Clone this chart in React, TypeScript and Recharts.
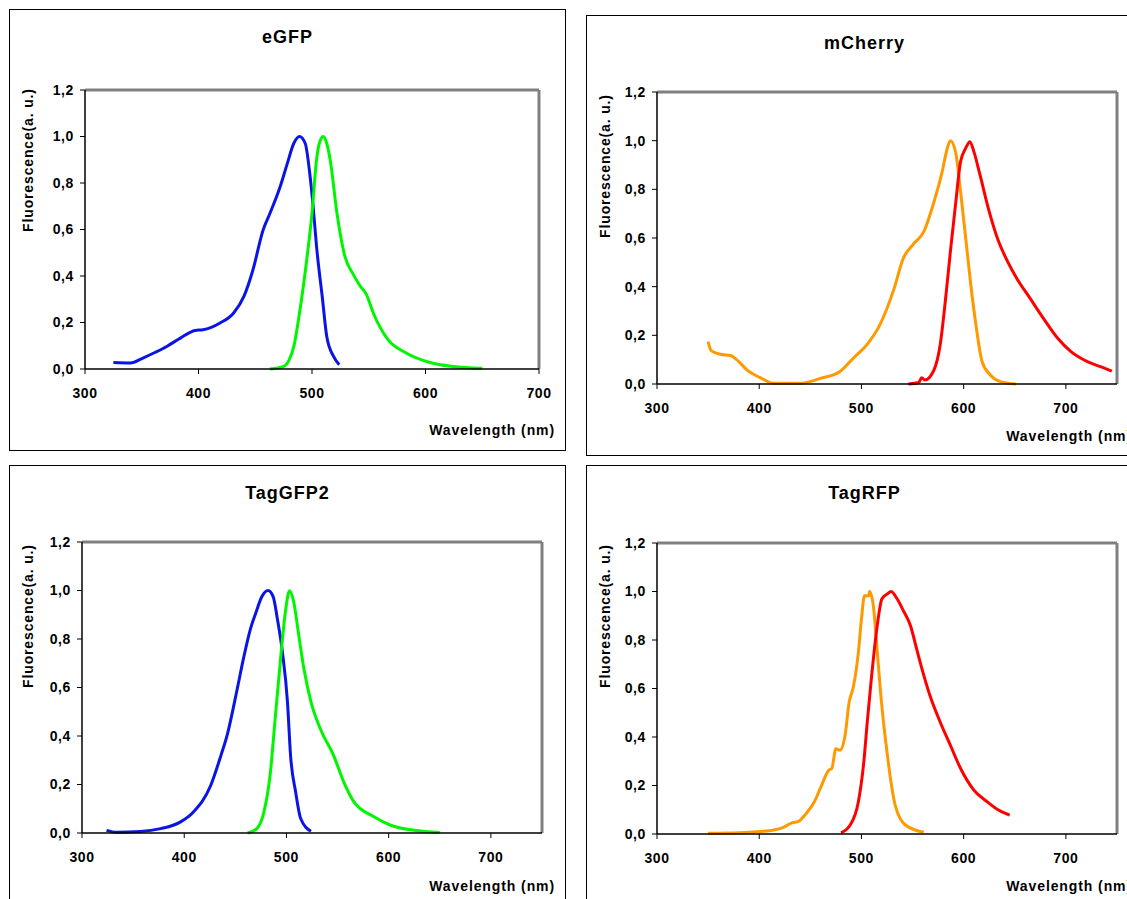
import React from 'react';
import { LineChart, Line, XAxis, YAxis, ReferenceLine } from 'recharts';

// wavelength (nm) / normalised fluorescence
const egfpExX = [325, 340, 351, 362, 372, 384, 397, 404, 419, 431, 440, 448, 457, 463, 472, 478, 484, 489, 494, 498, 501, 504, 509, 513, 519, 524];
const egfpExY = [0.028, 0.026, 0.047, 0.072, 0.097, 0.133, 0.166, 0.169, 0.198, 0.241, 0.312, 0.427, 0.599, 0.67, 0.785, 0.88, 0.971, 1.0, 0.971, 0.842, 0.699, 0.527, 0.312, 0.14, 0.054, 0.018];
const egfpEmX = [463, 475, 480, 484, 489, 495, 500, 504, 507, 510, 513, 516, 522, 529, 536, 542, 548, 554, 567, 583, 604, 624, 650];
const egfpEmY = [0.0, 0.011, 0.04, 0.097, 0.241, 0.456, 0.67, 0.9, 0.98, 1.0, 0.97, 0.9, 0.67, 0.484, 0.41, 0.36, 0.32, 0.241, 0.126, 0.069, 0.028, 0.011, 0.003];

const mcherryExX = [350, 353, 362, 372, 380, 388, 401, 414, 440, 460, 479, 492, 505, 518, 532, 541, 550, 561, 571, 579, 584, 587, 592, 597, 602, 607, 612, 618, 626, 636, 651];
const mcherryExY = [0.174, 0.137, 0.122, 0.117, 0.092, 0.058, 0.026, 0.003, 0.003, 0.023, 0.051, 0.106, 0.16, 0.243, 0.393, 0.517, 0.571, 0.626, 0.749, 0.873, 0.969, 1.0, 0.955, 0.79, 0.599, 0.407, 0.243, 0.092, 0.037, 0.01, 0.0];
const mcherryEmX = [546, 556, 559, 562, 571, 577, 582, 587, 592, 597, 602, 606, 610, 616, 625, 633, 643, 652, 665, 678, 692, 705, 721, 734, 745];
const mcherryEmY = [0.0, 0.006, 0.026, 0.016, 0.058, 0.16, 0.338, 0.544, 0.736, 0.914, 0.969, 0.996, 0.955, 0.859, 0.708, 0.599, 0.503, 0.434, 0.352, 0.27, 0.188, 0.133, 0.092, 0.071, 0.053];

const tagGfpExX = [324, 334, 357, 377, 396, 409, 426, 436, 442, 452, 458, 465, 470, 476, 482, 487, 491, 496, 501, 504, 509, 514, 524];
const tagGfpExY = [0.011, 0.003, 0.006, 0.018, 0.045, 0.087, 0.197, 0.321, 0.404, 0.597, 0.72, 0.845, 0.907, 0.975, 1.0, 0.975, 0.886, 0.748, 0.541, 0.321, 0.169, 0.059, 0.007];
const tagGfpEmX = [462, 471, 478, 484, 489, 494, 499, 503, 507, 512, 517, 524, 533, 546, 556, 566, 586, 602, 625, 650];
const tagGfpEmY = [0.0, 0.018, 0.087, 0.238, 0.473, 0.707, 0.913, 0.999, 0.955, 0.817, 0.679, 0.541, 0.431, 0.321, 0.211, 0.128, 0.066, 0.032, 0.011, 0.002];

const tagRfpExX = [350, 381, 401, 414, 423, 432, 438, 446, 454, 461, 468, 471, 475, 479, 484, 488, 492, 497, 500, 503, 507, 508, 512, 515, 519, 525, 533, 543, 561];
const tagRfpExY = [0.003, 0.005, 0.01, 0.016, 0.026, 0.046, 0.051, 0.085, 0.133, 0.201, 0.263, 0.27, 0.352, 0.345, 0.407, 0.544, 0.605, 0.749, 0.886, 0.982, 0.982, 1.0, 0.928, 0.777, 0.571, 0.338, 0.119, 0.037, 0.007];
const tagRfpEmX = [480, 489, 497, 502, 506, 510, 515, 520, 525, 529, 535, 541, 548, 554, 561, 567, 577, 587, 597, 610, 623, 634, 645];
const tagRfpEmY = [0.005, 0.037, 0.133, 0.284, 0.476, 0.654, 0.845, 0.969, 0.989, 1.0, 0.969, 0.921, 0.859, 0.763, 0.654, 0.571, 0.462, 0.366, 0.27, 0.181, 0.133, 0.099, 0.078];

const xTicks = [300, 400, 500, 600, 700];
const yTicks = [0, 0.2, 0.4, 0.6, 0.8, 1.0, 1.2];

const toPoints = (xs: number[], ys: number[]) => xs.map((x, i) => ({ x, y: ys[i] }));

const FONT = '"Liberation Sans", Arial, sans-serif';

type PanelProps = {
  title: string;
  left: number;
  top: number;
  height: number;
  xMax: number;
  margin: { top: number; right: number; bottom: number; left: number };
  series: { points: { x: number; y: number }[]; color: string }[];
};

const Panel: React.FC<PanelProps> = ({ title, left, top, height, xMax, margin, series }) => {
  const tickStyle = { fontSize: 14, fontWeight: 700, fill: '#000', fontFamily: FONT, letterSpacing: 0.6 };
  return (
    <div style={{ position: 'absolute', left, top, width: 555, height, outline: '1.5px solid #000', background: '#fff' }}>
      <div style={{ position: 'absolute', left: 0, width: 555, top: 17, textAlign: 'center', fontFamily: FONT, fontWeight: 700, fontSize: 18, letterSpacing: 1 }}>
        {title}
      </div>
      <div style={{ position: 'absolute', left: 18, top: 150, width: 0, height: 0 }}>
        <div style={{ position: 'absolute', transform: 'translate(-50%, -50%) rotate(-90deg)', whiteSpace: 'nowrap', fontFamily: FONT, fontWeight: 700, fontSize: 14, letterSpacing: 0.85 }}>
          Fluorescence(a. u.)
        </div>
      </div>
      <div style={{ position: 'absolute', right: 10, top: 412, whiteSpace: 'nowrap', fontFamily: FONT, fontWeight: 700, fontSize: 14, letterSpacing: 0.9 }}>
        Wavelength (nm)
      </div>
      <div style={{ position: 'absolute', left: 0, top: 0 }}>
        <LineChart width={555} height={440} margin={margin}>
          <XAxis
            type="number"
            dataKey="x"
            domain={[300, xMax]}
            ticks={xTicks}
            height={30}
            tickSize={5}
            tickMargin={14}
            tick={tickStyle}
            axisLine={{ stroke: '#000', strokeWidth: 1.5 }}
            tickLine={{ stroke: '#000' }}
            allowDataOverflow
          />
          <YAxis
            type="number"
            domain={[0, 1.2]}
            ticks={yTicks}
            width={40}
            tickSize={5}
            tickMargin={6}
            tick={tickStyle}
            tickFormatter={(v: number) => v.toFixed(1).replace('.', ',')}
            axisLine={{ stroke: '#000', strokeWidth: 1.5 }}
            tickLine={{ stroke: '#000' }}
          />
          <ReferenceLine y={1.2} stroke="#808080" strokeWidth={3} />
          <ReferenceLine x={xMax} stroke="#808080" strokeWidth={3} />
          {series.map((s, i) => (
            <Line
              key={i}
              data={s.points}
              dataKey="y"
              type="monotone"
              stroke={s.color}
              strokeWidth={3}
              dot={false}
              activeDot={false}
              isAnimationActive={false}
            />
          ))}
        </LineChart>
      </div>
    </div>
  );
};

export default function App() {
  return (
    <div style={{ position: 'absolute', left: 0, top: 0, width: 1127, height: 899, overflow: 'hidden', background: '#fff' }}>
      <Panel
        title="eGFP"
        left={10}
        top={10}
        height={440}
        xMax={700}
        margin={{ top: 80, right: 26, bottom: 51, left: 35 }}
        series={[
          { points: toPoints(egfpExX, egfpExY), color: '#0a14e6' },
          { points: toPoints(egfpEmX, egfpEmY), color: '#00f500' },
        ]}
      />
      <Panel
        title="mCherry"
        left={587}
        top={16}
        height={439}
        xMax={750}
        margin={{ top: 76, right: 25, bottom: 42, left: 30 }}
        series={[
          { points: toPoints(mcherryExX, mcherryExY), color: '#ff9900' },
          { points: toPoints(mcherryEmX, mcherryEmY), color: '#ff0000' },
        ]}
      />
      <Panel
        title="TagGFP2"
        left={10}
        top={466}
        height={440}
        xMax={750}
        margin={{ top: 76, right: 23, bottom: 43, left: 32 }}
        series={[
          { points: toPoints(tagGfpExX, tagGfpExY), color: '#0a14e6' },
          { points: toPoints(tagGfpEmX, tagGfpEmY), color: '#00f500' },
        ]}
      />
      <Panel
        title="TagRFP"
        left={587}
        top={466}
        height={440}
        xMax={750}
        margin={{ top: 77, right: 25, bottom: 42, left: 30 }}
        series={[
          { points: toPoints(tagRfpExX, tagRfpExY), color: '#ff9900' },
          { points: toPoints(tagRfpEmX, tagRfpEmY), color: '#ff0000' },
        ]}
      />
    </div>
  );
}
